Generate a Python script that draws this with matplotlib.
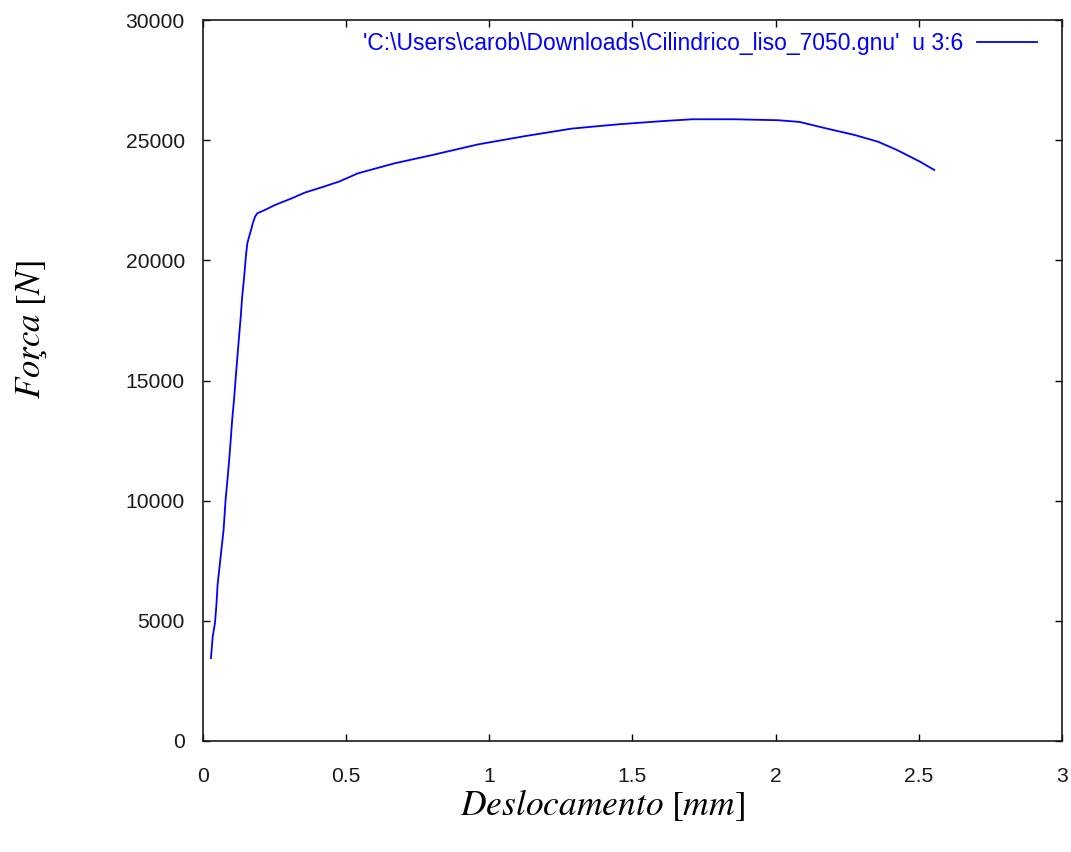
import matplotlib
matplotlib.use("Agg")
import matplotlib.pyplot as plt
import numpy as np

# Deslocamento [mm] e Força [N]
deslocamento = [0.028, 0.034, 0.042, 0.047, 0.051, 0.058, 0.065, 0.072, 0.079, 0.085,
                0.091, 0.097, 0.102, 0.109, 0.114, 0.120, 0.126, 0.132, 0.137, 0.144,
                0.150, 0.155, 0.162, 0.168, 0.174, 0.182, 0.190, 0.217, 0.251, 0.31,
                0.356, 0.415, 0.476, 0.541, 0.670, 0.800, 0.963, 1.125, 1.287, 1.450,
                1.612, 1.709, 1.856, 2.010, 2.083, 2.180, 2.278, 2.359, 2.424, 2.505, 2.554]
forca = [3450, 4340, 4910, 5660, 6490, 7250, 8030, 8780, 10030, 10790,
         11620, 12530, 13360, 14270, 15060, 15940, 16820, 17660, 18490, 19320,
         20180, 20710, 21020, 21260, 21540, 21820, 21960, 22100, 22300, 22580,
         22820, 23040, 23280, 23620, 24040, 24380, 24830, 25170, 25480, 25660,
         25800, 25870, 25870, 25830, 25760, 25480, 25210, 24930, 24590, 24100, 23760]

legenda = "'C:\\Users\\carob\\Downloads\\Cilindrico_liso_7050.gnu'  u 3:6"

plt.rcParams['font.family'] = ['Liberation Sans', 'DejaVu Sans']
plt.rcParams['mathtext.fontset'] = 'stix'

fig = plt.figure(figsize=(10.71, 8.52), dpi=100)
ax = fig.add_axes([0.1895, 0.1303, 0.9916 - 0.1895, 0.9765 - 0.1303])

ax.plot(deslocamento, forca, color='#0000ff', linewidth=1.3, label=legenda)

ax.set_xlim(0, 3)
ax.set_ylim(0, 30000)
ax.set_xticks(np.arange(0, 3.01, 0.5))
ax.set_xticklabels(['0', '0.5', '1', '1.5', '2', '2.5', '3'])
ax.set_yticks(np.arange(0, 30001, 5000))
ax.tick_params(direction='in', length=5, width=1, top=True, right=True,
               labelsize=15.2, labelcolor='#1a1a1a')
ax.tick_params(axis='x', pad=19)
ax.tick_params(axis='y', pad=13)
for s in ax.spines.values():
    s.set_linewidth(1.2)
    s.set_color('#1a1a1a')

# legenda no canto superior direito, estilo gnuplot
leg = ax.legend(loc='upper right', frameon=False, fontsize=16.5, markerfirst=False,
                handlelength=2.6, handletextpad=0.6, borderpad=0, borderaxespad=0,
                bbox_to_anchor=(0.9683, 0.9625), bbox_transform=fig.transFigure)
for t in leg.get_texts():
    t.set_color('#0000ff')

fig.text(0.5625, 0.055, r'$Deslocamento\ [mm]$', fontsize=25.5, ha='center', va='center')
fig.text(0.03, 0.613, r'$For\c{c}a\ [N]$', fontsize=25, ha='center', va='center', rotation=90)

plt.savefig('out.png', dpi=100)
plt.close()
